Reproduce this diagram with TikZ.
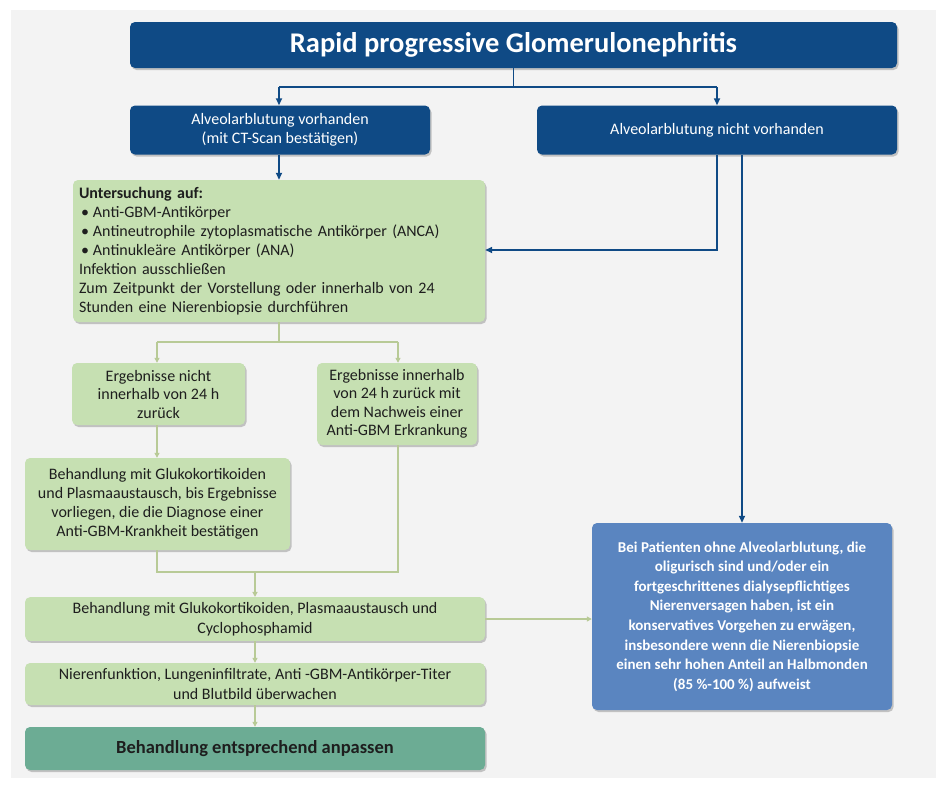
\documentclass[tikz,border=0pt]{standalone}
\usepackage{fontspec}
\setmainfont{Carlito}
\usetikzlibrary{shadows,arrows.meta,calc}

\definecolor{navy}{RGB}{15,74,133}
\definecolor{paleback}{RGB}{243,243,243}
\definecolor{leaf}{RGB}{198,224,178}
\definecolor{leafline}{RGB}{184,202,150}
\definecolor{teal}{RGB}{108,172,148}
\definecolor{steel}{RGB}{90,133,192}
\definecolor{ink}{RGB}{30,30,30}

\tikzset{
  box/.style={rounded corners=5pt, inner sep=5pt, align=center,
    drop shadow={shadow xshift=1.5pt, shadow yshift=-2pt, opacity=0.35, fill=black!60}},
  navybox/.style={box, fill=navy, text=white, font=\fontsize{16}{19}\selectfont},
  leafbox/.style={box, fill=leaf, text=ink, font=\fontsize{16}{19}\selectfont},
  tealbox/.style={box, fill=teal, text=ink, font=\bfseries\fontsize{18.5}{22}\selectfont},
  steelbox/.style={box, fill=steel, text=white, font=\bfseries\fontsize{15}{19.6}\selectfont},
  navyline/.style={draw=navy, line width=1.6pt},
  navyarrow/.style={navyline, -{Triangle[length=7pt,width=6pt]}},
  leafconn/.style={draw=leafline, line width=1.2pt},
  leafarrow/.style={leafconn, -{Triangle[length=5pt,width=5pt]}},
}

\begin{document}
\begin{tikzpicture}[x=1pt,y=-1pt]
\useasboundingbox (0,0) rectangle (947,785);
\fill[white] (0,0) rectangle (947,785);
\fill[paleback] (11,10) rectangle (936,778);

% top level
\node[navybox, minimum width=767pt, minimum height=46pt, font=\bfseries\fontsize{28.5}{32}\selectfont]
  (title) at (513.5,45) {Rapid progressive Glomerulonephritis};

\node[navybox, minimum width=300pt, minimum height=49pt] (present) at (280,130)
  {Alveolarblutung vorhanden\\(mit CT-Scan bestätigen)};
\node[navybox, minimum width=360pt, minimum height=49pt] (absent) at (717,130)
  {Alveolarblutung nicht vorhanden};

% work-up box
\node[leafbox, minimum width=412pt, minimum height=142pt, text width=400pt, align=left,
  inner sep=6pt] (workup) at (279,251)
  {\textbf{Untersuchung auf:}\\
   \hspace*{2pt}\makebox[12pt][l]{•}Anti-GBM-Antikörper\\
   \hspace*{2pt}\makebox[12pt][l]{•}Antineutrophile zytoplasmatische Antikörper (ANCA)\\
   \hspace*{2pt}\makebox[12pt][l]{•}Antinukleäre Antikörper (ANA)\\
   Infektion ausschließen\\
   Zum Zeitpunkt der Vorstellung oder innerhalb von 24\\
   Stunden eine Nierenbiopsie durchführen};

% results branches
\node[leafbox, minimum width=173pt, minimum height=62pt, font=\fontsize{16}{18.5}\selectfont] (late) at (158.5,394)
  {Ergebnisse nicht\\innerhalb von 24 h\\zurück};
\node[leafbox, minimum width=160pt, minimum height=82pt, font=\fontsize{16}{18.5}\selectfont] (early) at (397,404)
  {Ergebnisse innerhalb\\von 24 h zurück mit\\dem Nachweis einer\\Anti-GBM Erkrankung};

\node[leafbox, minimum width=265pt, minimum height=92pt, inner sep=3pt] (bridge) at (157.5,504)
  {Behandlung mit Glukokortikoiden\\und Plasmaaustausch, bis Ergebnisse\\vorliegen, die die Diagnose einer\\Anti-GBM-Krankheit bestätigen};

% treatment chain
\node[leafbox, minimum width=460pt, minimum height=42pt, font=\fontsize{16}{20}\selectfont] (treat) at (255,619)
  {Behandlung mit Glukokortikoiden, Plasmaaustausch und\\Cyclophosphamid};
\node[leafbox, minimum width=460pt, minimum height=42pt, font=\fontsize{16}{20}\selectfont] (monitor) at (255,684)
  {Nierenfunktion, Lungeninfiltrate, Anti -GBM-Antikörper-Titer\\und Blutbild überwachen};
\node[tealbox, minimum width=460pt, minimum height=43pt] (adjust) at (255,748.5)
  {Behandlung entsprechend anpassen};

% conservative option
\node[steelbox, minimum width=300pt, minimum height=187pt] (conserv) at (742,616.5)
  {Bei Patienten ohne Alveolarblutung, die\\oligurisch sind und/oder ein\\fortgeschrittenes dialysepflichtiges\\Nierenversagen haben, ist ein\\konservatives Vorgehen zu erwägen,\\insbesondere wenn die Nierenbiopsie\\einen sehr hohen Anteil an Halbmonden\\(85 \%-100 \%) aufweist};

% navy connectors
\coordinate (split) at (title.south |- 0,87);
\coordinate (splitL) at (279,87);
\coordinate (splitR) at (absent.north |- split);
\draw[navyline] (title.south) -- (split);
\draw[navyline] (splitL) -- (splitR);
\draw[navyarrow] (splitL) -- (splitL |- present.north);
\draw[navyarrow] (splitR) -- (absent.north);
\draw[navyarrow] (splitL |- present.south) -- (splitL |- workup.north);
\coordinate (absentL) at (717,155);
\draw[navyarrow] (absentL |- absent.south) -- (absentL |- 0,250) -- (workup.east |- 0,250);
\draw[navyarrow] (conserv.north |- absent.south) -- (conserv.north);

% green connectors
\coordinate (fork) at (workup.south |- 0,342);
\coordinate (forkL) at (157,342);
\coordinate (forkR) at (398,342);
\draw[leafconn] (workup.south) -- (fork);
\draw[leafconn] (forkL) -- (forkR);
\draw[leafarrow] (forkL) -- (forkL |- late.north);
\draw[leafarrow] (forkR) -- (forkR |- early.north);
\draw[leafarrow] (forkL |- late.south) -- (forkL |- bridge.north);
\coordinate (joinL) at (157,572);
\coordinate (joinR) at (398,572);
\coordinate (join) at (treat.north |- joinL);
\draw[leafconn] (joinL |- bridge.south) -- (joinL) -- (joinR) -- (joinR |- early.south);
\draw[leafarrow] (join) -- (treat.north);
\draw[leafarrow] (treat.south) -- (monitor.north);
\draw[leafarrow] (monitor.south) -- (adjust.north);
\draw[leafarrow] (treat.east) -- (conserv.west |- treat.east);
\end{tikzpicture}
\end{document}
